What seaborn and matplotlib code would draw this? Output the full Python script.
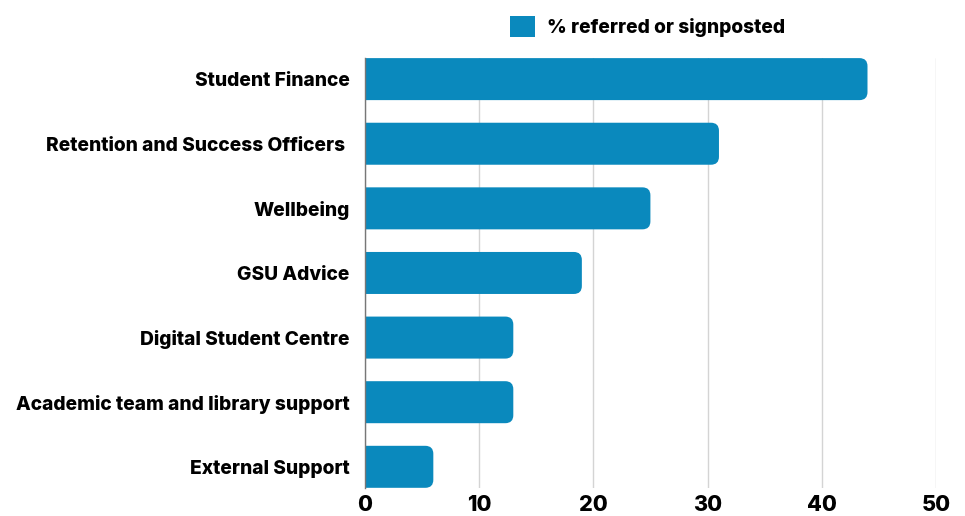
import seaborn as sns
import matplotlib.pyplot as plt
import pandas as pd
from matplotlib.patches import FancyBboxPatch, Patch

# data
services = ["Student Finance", "Retention and Success Officers ", "Wellbeing", "GSU Advice",
            "Digital Student Centre", "Academic team and library support", "External Support"]
percent = [44, 31, 25, 19, 13, 13, 6]
serie = "% referred or signposted"
color_barra = "#0a89bd"

df = pd.DataFrame({"servicio": services, "valor": percent})

sns.set_style("white")
plt.rcParams['font.family'] = ['Inter', 'DejaVu Sans']

fig = plt.figure(figsize=(9.65, 5.16), dpi=100)
ax = fig.add_axes([0.378, 0.054, 0.592, 0.834])

sns.barplot(data=df, x="valor", y="servicio", color=color_barra, width=0.65,
            saturation=1, ax=ax, zorder=3)

ax.set_xlim(0, 50)
ax.set_ylim(6.33, -0.33)

# rounded right end for each bar
aspect = (6.66 / 430) / (50 / 571)
radio = 0.7
for p in list(ax.patches):
    x0, y0, w, h = p.get_x(), p.get_y(), p.get_width(), p.get_height()
    p.remove()
    ax.add_patch(FancyBboxPatch((x0 - radio * 2, y0), w + radio * 2, h,
                                boxstyle=f"round,pad=0,rounding_size={radio}",
                                mutation_aspect=aspect, facecolor=color_barra,
                                edgecolor="none", zorder=3))

ax.set_xticks(range(0, 51, 10))
ax.xaxis.grid(True, color="#d4d4d4", linewidth=1, zorder=0)
ax.yaxis.grid(False)
ax.set_xlabel("")
ax.set_ylabel("")
for s in ["top", "right", "bottom"]:
    ax.spines[s].set_visible(False)
ax.spines["left"].set_color("#777777")
ax.spines["left"].set_linewidth(1)
ax.spines["left"].set_zorder(4)

ax.tick_params(axis="y", length=0, pad=11, labelsize=13.8)
ax.tick_params(axis="x", length=0, pad=5, labelsize=15.5)
for t in ax.get_yticklabels() + ax.get_xticklabels():
    t.set_fontweight("heavy")
    t.set_color("black")

fig.legend(handles=[Patch(facecolor=color_barra, edgecolor="none", label=serie)],
           loc="center left", bbox_to_anchor=(0.511, 0.948), frameon=False,
           handlelength=1.3, handleheight=1.3, handletextpad=0.6, labelcolor="black",
           prop={"weight": "heavy", "size": 13.8})

fig.savefig("out.png", dpi=100)
